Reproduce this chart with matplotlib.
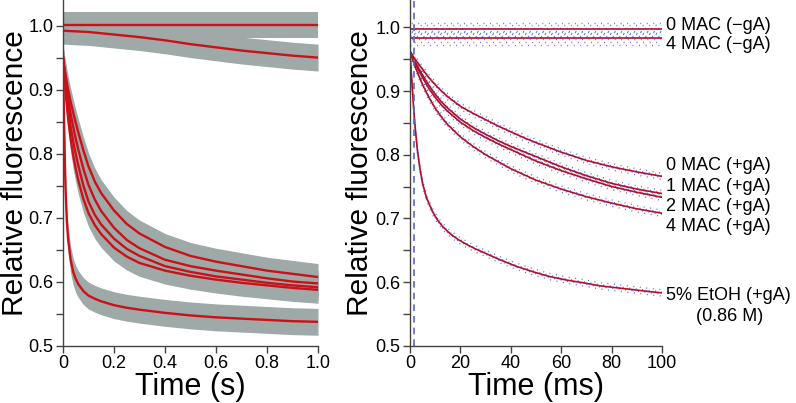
import numpy as np
import matplotlib.pyplot as plt

plt.rcParams['font.family'] = ['Liberation Sans', 'DejaVu Sans']

# ---- left panel data (time in s) ----
t_s = [0, 0.005, 0.01, 0.02, 0.03, 0.04, 0.05, 0.06, 0.08, 0.1, 0.125, 0.15, 0.2, 0.25,
       0.3, 0.4, 0.5, 0.6, 0.7, 0.8, 0.9, 1.0]
t_flat = [0, 0.1, 0.2, 0.3, 0.4, 0.5, 0.6, 0.7, 0.8, 0.9, 1.0]
flat_0 = [1.001] * len(t_flat)
flat_4 = [0.992, 0.990, 0.986, 0.982, 0.977, 0.971, 0.966, 0.961, 0.957, 0.953, 0.950]
mac_0 = [0.950, 0.936, 0.923, 0.900, 0.881, 0.864, 0.848, 0.833, 0.805, 0.780, 0.756,
         0.738, 0.711, 0.690, 0.675, 0.654, 0.640, 0.631, 0.624, 0.617, 0.612, 0.607]
mac_1 = [0.950, 0.932, 0.915, 0.886, 0.862, 0.842, 0.823, 0.806, 0.776, 0.751, 0.728,
         0.710, 0.684, 0.665, 0.652, 0.634, 0.624, 0.617, 0.611, 0.605, 0.600, 0.597]
mac_2 = [0.950, 0.927, 0.906, 0.870, 0.842, 0.819, 0.799, 0.781, 0.750, 0.725, 0.704,
         0.689, 0.667, 0.651, 0.640, 0.624, 0.615, 0.608, 0.603, 0.598, 0.594, 0.591]
mac_4 = [0.950, 0.921, 0.896, 0.855, 0.823, 0.797, 0.776, 0.758, 0.729, 0.707, 0.688,
         0.674, 0.653, 0.639, 0.629, 0.617, 0.609, 0.603, 0.598, 0.594, 0.590, 0.587]
t_fast = [0, 0.0025, 0.005, 0.0075, 0.01, 0.015, 0.02, 0.03, 0.04, 0.05, 0.06, 0.08, 0.1,
          0.125, 0.15, 0.2, 0.25, 0.3, 0.4, 0.5, 0.6, 0.7, 0.8, 0.9, 1.0]
etoh = [0.950, 0.885, 0.835, 0.785, 0.745, 0.695, 0.666, 0.634, 0.615, 0.604, 0.596,
        0.585, 0.578, 0.573, 0.569, 0.563, 0.559, 0.556, 0.551, 0.547, 0.544, 0.542,
        0.540, 0.538, 0.537]

# ---- right panel data (time in ms) ----
t_ms = [0, 1, 2, 3.5, 5, 7.5, 10, 12.5, 15, 20, 25, 30, 35, 40, 45, 50, 60, 70, 80, 90, 100]
t_ms_flat = [0, 100]
r_flat_0 = [0.998, 0.998]
r_flat_4 = [0.984, 0.984]
r_mac_0 = [0.962, 0.956, 0.950, 0.942, 0.934, 0.921, 0.910, 0.900, 0.891, 0.876, 0.865,
           0.855, 0.845, 0.836, 0.827, 0.819, 0.804, 0.791, 0.781, 0.773, 0.766]
r_mac_1 = [0.962, 0.954, 0.946, 0.935, 0.925, 0.909, 0.895, 0.883, 0.873, 0.856, 0.843,
           0.832, 0.822, 0.813, 0.805, 0.797, 0.781, 0.767, 0.755, 0.746, 0.739]
r_mac_2 = [0.962, 0.953, 0.944, 0.932, 0.921, 0.904, 0.890, 0.878, 0.868, 0.851, 0.838,
           0.827, 0.817, 0.808, 0.799, 0.790, 0.775, 0.762, 0.750, 0.741, 0.733]
r_mac_4 = [0.962, 0.950, 0.939, 0.924, 0.910, 0.890, 0.873, 0.859, 0.847, 0.828, 0.813,
           0.800, 0.789, 0.778, 0.769, 0.760, 0.746, 0.734, 0.724, 0.715, 0.708]
t_ms_fast = [0, 0.25, 0.5, 1, 1.5, 2, 3, 4, 5, 6.5, 8, 9.3, 11, 13, 15.9, 19, 22.5, 26,
             30, 35.7, 42, 48.9, 55, 62.2, 70, 75.4, 82, 88.6, 95, 100]
r_etoh = [0.962, 0.945, 0.930, 0.900, 0.870, 0.845, 0.805, 0.777, 0.755, 0.733, 0.719,
          0.708, 0.697, 0.687, 0.676, 0.667, 0.659, 0.652, 0.645, 0.635, 0.625, 0.616,
          0.609, 0.603, 0.598, 0.594, 0.591, 0.588, 0.585, 0.583]
dash_t = 1.6

labels = ['0 MAC (\u2212gA)', '4 MAC (\u2212gA)', '0 MAC (+gA)', '1 MAC (+gA)',
          '2 MAC (+gA)', '4 MAC (+gA)', '5% EtOH (+gA)']

W, H = 796, 403
fig = plt.figure(figsize=(W / 100, H / 100), dpi=100)
ax1 = fig.add_axes([63 / W, 1 - 345.5 / H, 255 / W, 345.5 / H])
ax2 = fig.add_axes([410 / W, 1 - 345.7 / H, 252 / W, 345.7 / H])

red = '#cc1018'
gray = '#9fa9a7'
band = 0.021

left_series = [(t_flat, flat_0), (t_flat, flat_4), (t_s, mac_0), (t_s, mac_1),
               (t_s, mac_2), (t_s, mac_4), (t_fast, etoh)]
for t, y in left_series:
    y = np.array(y)
    ax1.fill_between(t, y - band, y + band, color=gray, lw=0)
for t, y in left_series:
    ax1.plot(t, y, color=red, lw=1.7)

# right panel: blue dotted "data" around red fits
blue = '#3a48dd'
flat_offs = [-0.011, -0.007, -0.003, 0.001, 0.005, 0.009]
dec_offs = [-0.005, -0.0017, 0.0017, 0.005]
right_series = [(t_ms_flat, r_flat_0, flat_offs), (t_ms_flat, r_flat_4, flat_offs),
                (t_ms, r_mac_0, dec_offs), (t_ms, r_mac_1, dec_offs),
                (t_ms, r_mac_2, dec_offs), (t_ms, r_mac_4, dec_offs),
                (t_ms_fast, r_etoh, dec_offs)]
for t, y, offs in right_series:
    y = np.array(y)
    for i, o in enumerate(offs):
        ax2.plot(t, y + o, color=blue, lw=1.0, alpha=0.8,
                 linestyle=(i * 1.7, (0.7, 4.0)))
fit_red = '#b0102a'
for t, y, _ in right_series:
    ax2.plot(t, y, color=fit_red, lw=1.2)
ax2.axvline(dash_t, color='#5868c8', lw=1.2, linestyle=(0, (4, 3)))

for ax, ymax in [(ax1, 1.04), (ax2, 1.043)]:
    ax.set_ylim(0.5, ymax)
    ax.spines['top'].set_visible(False)
    ax.spines['right'].set_visible(False)
    for s in ['left', 'bottom']:
        ax.spines[s].set_color('#444444')
        ax.spines[s].set_linewidth(1.0)
    ax.set_yticks([0.5, 0.6, 0.7, 0.8, 0.9, 1.0])
    ax.set_yticks([0.55, 0.65, 0.75, 0.85, 0.95], minor=True)
    ax.tick_params(axis='both', which='major', direction='out', length=5, width=1,
                   color='#444444', labelsize=13, pad=2)
    ax.tick_params(axis='y', which='minor', direction='out', length=5, width=1,
                   color='#444444')
    ax.set_yticklabels(['0.5', '0.6', '0.7', '0.8', '0.9', '1.0'])
    ax.set_ylabel('Relative fluorescence', fontsize=21.5)

ax1.yaxis.set_label_coords(-0.133, 0.5)
ax2.yaxis.set_label_coords(-0.143, 0.5)

ax1.set_xlim(0, 1.0)
ax1.set_xticks([0, 0.2, 0.4, 0.6, 0.8, 1.0])
ax1.set_xticklabels(['0', '0.2', '0.4', '0.6', '0.8', '1.0'])
ax1.set_xlabel('Time (s)', fontsize=22, labelpad=0)

ax2.set_xlim(0, 100)
ax2.set_xticks([0, 20, 40, 60, 80, 100])
ax2.set_xlabel('Time (ms)', fontsize=22, labelpad=0)

# curve labels (figure pixel positions)
lab_y = [25, 44.5, 165, 186.5, 206.5, 226.5, 295]
for txt, yp in zip(labels, lab_y):
    fig.text(666 / W, 1 - yp / H, txt, fontsize=13, ha='left', va='center')
fig.text(730 / W, 1 - 316.5 / H, '(0.86 M)', fontsize=13, ha='center', va='center')

fig.savefig('out.png', dpi=100)
